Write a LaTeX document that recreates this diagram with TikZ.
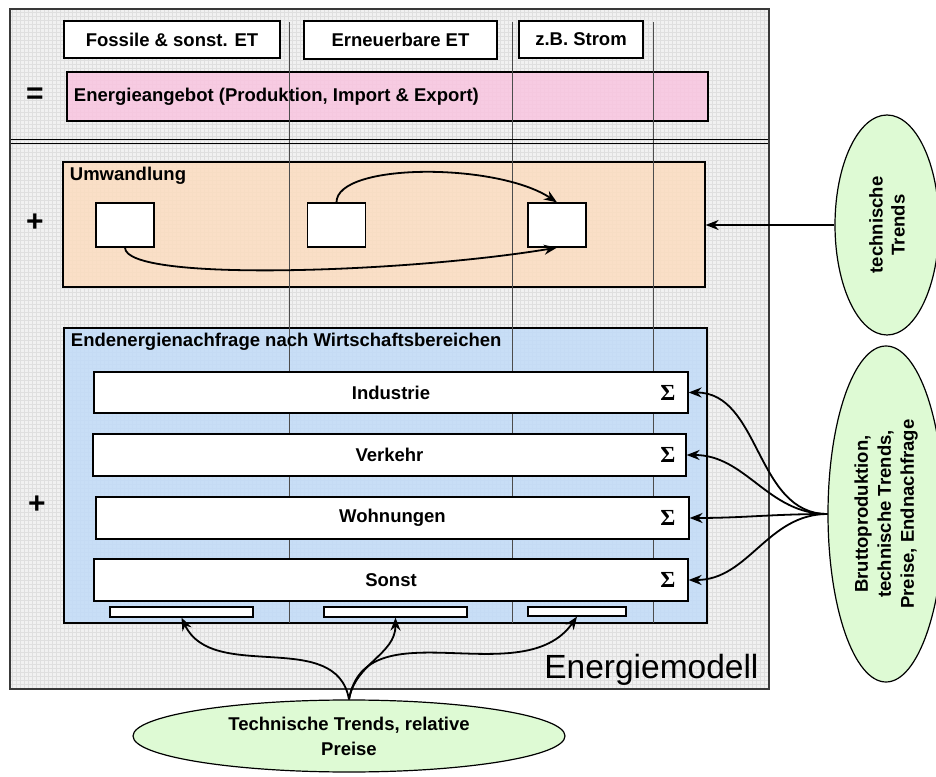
\documentclass[tikz,border=0pt]{standalone}
\usepackage{fontspec}
\setmainfont{Liberation Sans}
\newfontfamily\sigmafont{Liberation Serif}
\usetikzlibrary{shapes.geometric,arrows.meta,positioning}
\definecolor{angebotpink}{RGB}{249,197,224}
\definecolor{umworange}{RGB}{252,221,192}
\definecolor{nachfrageblue}{RGB}{193,219,248}
\definecolor{trendgreen}{RGB}{222,250,212}
\newcommand{\bigfont}{\fontsize{18.5}{22}\selectfont\bfseries}
\newcommand{\summe}{{\sigmafont\bfseries Σ}}

\begin{document}
\begin{tikzpicture}[x=1pt,y=1pt,
    box/.style={draw=black,line width=1.2pt,fill=white,inner sep=0pt,font=\bigfont},
    area/.style={draw=black,line width=1.2pt,fill opacity=.85,inner sep=0pt},
    trend/.style={ellipse,draw=black,line width=1.2pt,fill=trendgreen,inner sep=0pt,font=\bigfont,align=center},
    flow/.style={line width=1.8pt,-{Stealth[length=13pt,width=10pt]}},
    column/.style={gray!60!black,line width=.7pt},
    sign/.style={font=\fontsize{30}{30}\selectfont\bfseries}]
  \useasboundingbox (0,0) rectangle (936,776);
  % Modellrahmen
  \fill[gray!11] (10,87) rectangle (769,767);
  \draw[gray!25,line width=.3pt,step=4pt] (10,87) grid (769,767);
  % Bereiche
  \node[area,fill=angebotpink,minimum width=641pt,minimum height=49pt] (angebot) at (387.5,679.5) {};
  \node[area,fill=umworange,minimum width=642pt,minimum height=125pt] (umw) at (384,551.5) {};
  \node[area,fill=nachfrageblue,minimum width=643pt,minimum height=295pt] (ende) at (385.5,300.5) {};
  % Spalten
  \foreach \x in {289,512,653}
    \draw[column] (\x,754) -- (\x,153);
  \draw[line width=1pt] (10,636.5) -- (769,636.5);
  \draw[line width=1pt] (10,632.5) -- (769,632.5);
  \draw[gray!45!black,line width=1.5pt] (10,87) rectangle (769,767);
  % Energietraeger
  \node[box,minimum width=216pt,minimum height=37pt] (fossil) at (172,736.5) {Fossile \& sonst. ET};
  \node[box,minimum width=193pt,minimum height=38pt] (erneu) at (400.5,736) {Erneuerbare ET};
  \node[box,minimum width=124pt,minimum height=37pt] (strom) at (581,736.5) {z.B. Strom};
  \node[anchor=west,font=\bigfont] (angebottext) at ([xshift=4pt]angebot.west) {Energieangebot (Produktion, Import \& Export)};
  \node[sign] (gleich) at (35,680) {=};
  % Umwandlung
  \node[anchor=base west,font=\bigfont] (umwtext) at ([shift={(4pt,-19pt)}]umw.north west) {Umwandlung};
  \node[sign] (plusa) at (35,553) {+};
  \node[box,minimum width=58pt,minimum height=44pt] (sqA) at (125,551) {};
  \node[box,minimum width=58pt,minimum height=44pt] (sqB) at (336.5,551) {};
  \node[box,minimum width=58pt,minimum height=44pt] (sqC) at (557,551) {};
  % Endenergie
  \node[anchor=base west,font=\bigfont] (endetext) at ([shift={(4pt,-19pt)}]ende.north west) {Endenergienachfrage nach Wirtschaftsbereichen};
  \node[sign] (plusb) at (37,271) {+};
  \node[box,minimum width=594pt,minimum height=41pt] (ind) at (391,383.5) {Industrie};
  \node[box,minimum width=593pt,minimum height=42pt] (ver) at (389.5,321) {Verkehr};
  \node[box,minimum width=593pt,minimum height=42pt] (woh) at (392.5,258) {Wohnungen};
  \node[box,minimum width=594pt,minimum height=42pt] (son) at (391,196) {Sonst};
  \foreach \row in {ind,ver,woh,son}
    \node[font=\fontsize{23}{25}\selectfont] at (668,0 |- \row) {\summe};
  \node[box,minimum width=143pt,minimum height=10pt] (bar1) at (181.5,164) {};
  \node[box,minimum width=143pt,minimum height=10pt] (bar2) at (395.5,164) {};
  \node[box,minimum width=98pt,minimum height=9pt] (bar3) at (577,164.5) {};
  \node[anchor=base east,font=\fontsize{33.5}{36}\selectfont] (modell) at (762,98) {Energiemodell};
  % Einflussgroessen
  \node[trend,rotate=90,minimum width=220pt,minimum height=104pt] (tech) at (887,551) {technische\\Trends};
  \node[trend,rotate=90,minimum width=336pt,minimum height=116pt,font=\fontsize{18.5}{23}\selectfont\bfseries] (brutto) at (886,262) {Bruttoproduktion,\\technische Trends,\\Preise, Endnachfrage};
  \node[trend,minimum width=432pt,minimum height=72pt,font=\fontsize{18.5}{25}\selectfont\bfseries] (preise) at (349,40) {Technische Trends, relative\\Preise};
  % Pfeile
  \draw[flow] (sqB.north) .. controls +(0,40) and +(-60,40) .. (sqC.north);
  \draw[flow] (sqA.south) .. controls +(0,-35) and +(-150,-25) .. (sqC.south);
  \draw[flow] (tech.north) -- (tech.north -| umw.east);
  \foreach \row in {ind,ver,woh,son}
    \draw[flow] (brutto.north) to[out=180,in=0] (\row.east);
  \draw[flow] (preise.north) to[out=100,in=-65] (bar1.south);
  \draw[flow] (preise.north) to[out=80,in=-90] (bar2.south);
  \draw[flow] (preise.north) to[out=80,in=-125] (bar3.south);
\end{tikzpicture}
\end{document}
